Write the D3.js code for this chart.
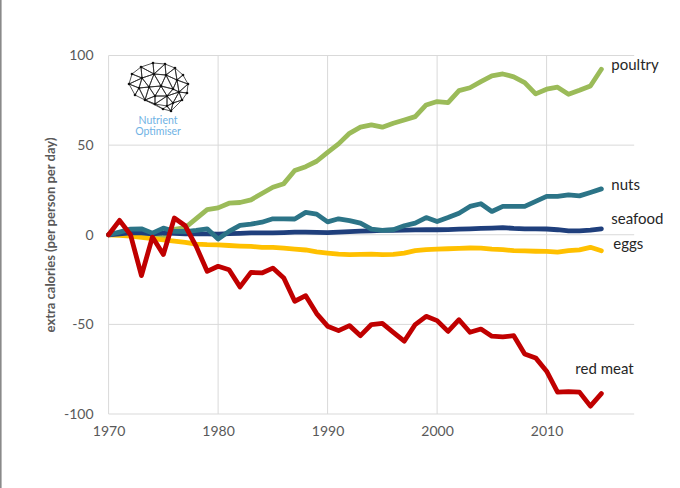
<!DOCTYPE html>
<html>
<head>
<meta charset="utf-8">
<script src="https://cdn.jsdelivr.net/npm/d3@7"></script>
<style>
  html, body { margin: 0; padding: 0; background: #fff; }
  svg { display: block; font-family: Lato, "Open Sans", sans-serif; }
</style>
</head>
<body>
<svg id="chart" width="680" height="488"></svg>
<script>
// ---- data ----
const years = d3.range(1970, 2016);
const poultry = [0, 1, 1.5, 1, 0.5, -2, 3, 4, 9, 14, 15, 17.6, 18, 19.5, 23, 26.5, 28.5, 35.8, 38, 41, 46, 50.7, 56.6, 60, 61.3, 60, 62.2, 64, 65.9, 72.4, 74.3, 73.7, 80.4, 82, 85.4, 88.6, 89.7, 88.1, 84.9, 78.6, 81.2, 82.3, 78.4, 80.6, 83, 92.3];
const nuts = [0, 1.5, 3.1, 3.3, 0.9, 3.7, 1.9, 1.8, 2.4, 3.3, -2.4, 1.9, 5.2, 5.9, 7, 8.9, 8.9, 8.8, 12.5, 11.5, 7.2, 8.9, 7.9, 6.5, 3.2, 2.4, 2.8, 5, 6.5, 9.6, 7.4, 9.6, 12, 15.8, 17.3, 13, 15.8, 15.8, 15.8, 18.6, 21.4, 21.4, 22.3, 21.7, 23.6, 25.6];
const seafood = [0, 0.5, 1, 1, 0.5, 1, 0.8, 0.5, 0.5, 0.5, 0.4, 0.6, 0.8, 1, 1, 1, 1.2, 1.5, 1.5, 1.3, 1.2, 1.5, 1.8, 2, 2.2, 2.4, 2.5, 2.6, 2.7, 2.8, 2.8, 2.9, 3.1, 3.3, 3.5, 3.7, 4, 3.5, 3.3, 3.3, 3.2, 2.8, 2.2, 2.2, 2.6, 3.3];
const eggs = [0, -0.3, -0.8, -1.5, -2.2, -2.8, -3.5, -4.2, -5.2, -5.5, -5.6, -6, -6.3, -6.5, -7, -7, -7.5, -8, -8.5, -9.5, -10.2, -10.8, -11.1, -11, -10.8, -11.1, -11, -10.2, -8.9, -8.3, -8, -7.8, -7.6, -7.4, -7.5, -8, -8.3, -8.9, -9, -9.2, -9.3, -9.7, -8.9, -8.4, -7, -8.9];
const redMeat = [0, 8, 0, -22.8, -1.3, -11, 9.3, 5, -6.5, -20.4, -17.6, -19.5, -29.1, -21, -21.3, -18.6, -24.1, -37.1, -34, -44, -51, -53.5, -50.7, -56.3, -50.1, -49.5, -54.4, -59.4, -50.1, -45.5, -47.9, -53.9, -47.4, -54.4, -52.6, -56.6, -57, -56.3, -66.5, -68.7, -76.1, -87.8, -87.5, -87.8, -95.6, -88.6];

const seriesNames = ["poultry", "eggs", "seafood", "nuts", "red meat"];
const seriesValues = [poultry, eggs, seafood, nuts, redMeat];
const seriesColors = ["#9BBB59", "#FFC000", "#1F3F7C", "#2C7487", "#C00000"];

const xTicks = [1970, 1980, 1990, 2000, 2010];
const yTicks = [-100, -50, 0, 50, 100];
const yTitle = "extra calories (per person per day)";
const logoLines = ["Nutrient", "Optimiser"];

// ---- layout ----
const svg = d3.select("#chart");
const x = d3.scaleLinear().domain([1970, 2018]).range([108.6, 634.2]);
const y = d3.scaleLinear().domain([-100, 100]).range([414, 55.5]);

// left border line of the image
svg.append("line").attr("x1", 0.8).attr("x2", 0.8).attr("y1", 0).attr("y2", 488)
  .attr("stroke", "#8a8a8a").attr("stroke-width", 1.6);

// gridlines
const grid = svg.append("g");
grid.selectAll("line.h").data(yTicks).join("line")
  .attr("x1", x(1970)).attr("x2", x(2018))
  .attr("y1", d => y(d)).attr("y2", d => y(d))
  .attr("stroke", "#d9d9d9").attr("stroke-width", 1);
grid.selectAll("line.v").data(xTicks).join("line")
  .attr("x1", d => x(d)).attr("x2", d => x(d))
  .attr("y1", y(100)).attr("y2", y(-100))
  .attr("stroke", "#d9d9d9").attr("stroke-width", 1);

// axes
const fmt = d => String(d);
const xAxis = d3.axisBottom(x).tickValues(xTicks).tickFormat(fmt).tickSize(0).tickPadding(12);
const gx = svg.append("g").attr("transform", `translate(0,${y(-100)})`).call(xAxis);
gx.select(".domain").remove();
gx.selectAll("text").attr("fill", "#595959").style("font-size", "14px").style("font-family", "Lato, sans-serif");

const yAxis = d3.axisLeft(y).tickValues(yTicks).tickFormat(fmt).tickSize(0).tickPadding(15);
const gy = svg.append("g").attr("transform", `translate(${x(1970)},0)`).call(yAxis);
gy.select(".domain").remove();
gy.selectAll("text").attr("fill", "#595959").style("font-size", "14px").style("font-family", "Lato, sans-serif");

svg.append("text")
  .attr("transform", `translate(52,235) rotate(-90)`)
  .attr("text-anchor", "middle")
  .attr("dominant-baseline", "middle")
  .attr("fill", "#595959")
  .style("font-size", "13px").style("font-weight", "bold")
  .text(yTitle);

// lines
const line = d3.line().x((d, i) => x(years[i])).y(d => y(d));
svg.append("g").selectAll("path").data(seriesValues).join("path")
  .attr("d", d => line(d))
  .attr("fill", "none")
  .attr("stroke", (d, i) => seriesColors[i])
  .attr("stroke-width", 4.8)
  .attr("stroke-linejoin", "round")
  .attr("stroke-linecap", "round");

// series labels (placed relative to each line's last point)
const labelOffsets = {
  "eggs": [12, -6],
  "seafood": [10, -9],
  "nuts": [10, -3],
  "poultry": [10, -3],
  "red meat": [-26, -23]
};
svg.append("g").selectAll("text").data(seriesNames).join("text")
  .attr("x", (d, i) => x(years[years.length - 1]) + labelOffsets[d][0])
  .attr("y", (d, i) => y(seriesValues[i][seriesValues[i].length - 1]) + labelOffsets[d][1])
  .attr("dominant-baseline", "middle")
  .attr("fill", "#262626")
  .style("font-size", "15px")
  .text(d => d);

// logo: brain network
const brainNodes = [
  [2,22],[5,12],[14,5],[26,1],[38,2],[48,6],[56,13],[61,22],[60,31],[55,38],[46,41],[40,44],[44,49],[36,47],[28,42],[18,38],[8,33],
  [15,16],[27,12],[39,13],[50,18],[22,25],[34,24],[46,27],[12,26],[28,34],[40,34],[52,30]
];
const logo = svg.append("g").attr("transform", "translate(127,62)");
const del = d3.Delaunay.from(brainNodes);
const tris = del.triangles;
const edges = [];
for (let t = 0; t < tris.length; t += 3) {
  const a = tris[t], b = tris[t + 1], c = tris[t + 2];
  const cx = (brainNodes[a][0] + brainNodes[b][0] + brainNodes[c][0]) / 3;
  const cy = (brainNodes[a][1] + brainNodes[b][1] + brainNodes[c][1]) / 3;
  if (cy > 43 && cx < 38) continue;
  edges.push([a, b], [b, c], [c, a]);
}
logo.selectAll("line").data(edges).join("line")
  .attr("x1", d => brainNodes[d[0]][0]).attr("y1", d => brainNodes[d[0]][1])
  .attr("x2", d => brainNodes[d[1]][0]).attr("y2", d => brainNodes[d[1]][1])
  .attr("stroke", "#2a2a2a").attr("stroke-width", 0.8);
logo.selectAll("circle").data(brainNodes).join("circle")
  .attr("cx", d => d[0]).attr("cy", d => d[1]).attr("r", 1.3).attr("fill", "#111");

svg.append("g").selectAll("text").data(logoLines).join("text")
  .attr("x", 158).attr("y", (d, i) => 121 + i * 11)
  .attr("text-anchor", "middle").attr("dominant-baseline", "middle")
  .attr("fill", "#6fb2e4")
  .style("font-size", "10.5px")
  .text(d => d);
</script>
</body>
</html>
